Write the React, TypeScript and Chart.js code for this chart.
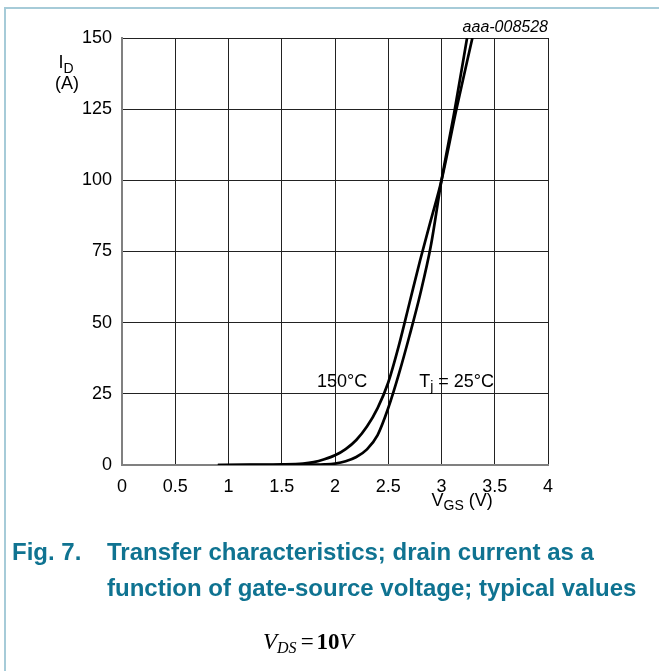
import React, { useEffect, useRef } from 'react';
import { Chart, registerables } from 'chart.js';

Chart.register(...registerables);

// ---- data ----
const vgs150 = [0.9, 1.2, 1.5, 1.7, 1.8, 1.9, 2.0, 2.1, 2.2, 2.3, 2.4, 2.5, 2.6, 2.7, 2.8, 2.9, 3.0, 3.14, 3.29];
const id150 = [0, 0.1, 0.2, 0.5, 1.0, 2.0, 3.4, 5.6, 8.8, 13.5, 20, 29, 42, 57, 72, 86, 100, 125, 150];

const vgs25 = [0.9, 1.5, 1.8, 1.9, 2.0, 2.1, 2.2, 2.3, 2.4, 2.5, 2.6, 2.7, 2.8, 2.9, 3.0, 3.125, 3.24];
const id25 = [0, 0, 0.1, 0.2, 0.5, 1.3, 2.8, 5.5, 10.5, 20, 32, 45.5, 60, 77, 100, 125, 150];

const xTickLabels = ['0', '0.5', '1', '1.5', '2', '2.5', '3', '3.5', '4'];
const yTickLabels = ['0', '25', '50', '75', '100', '125', '150'];

const SANS = "'Liberation Sans', Arial, Helvetica, sans-serif";
const SERIF = "'Liberation Serif', 'Times New Roman', serif";
const W = 659;
const H = 671;

const textPlugin = {
  id: 'extraTexts',
  afterDraw(chart: any) {
    const ctx = chart.ctx as CanvasRenderingContext2D;
    const xs = chart.scales.x;
    const ys = chart.scales.y;
    ctx.save();
    ctx.fillStyle = '#000';
    ctx.textBaseline = 'alphabetic';
    ctx.textAlign = 'left';

    const big = `18px ${SANS}`;
    const sub = `14px ${SANS}`;

    // y-axis title I_D (A)
    ctx.font = big;
    ctx.fillText('I', 58.5, 68);
    const w = ctx.measureText('I').width;
    ctx.font = sub;
    ctx.fillText('D', 58.5 + w, 73);
    ctx.font = big;
    ctx.fillText('(A)', 55, 89);

    // x-axis title V_GS (V)
    let x0 = 431.5;
    ctx.font = big;
    ctx.fillText('V', x0, 506);
    x0 += ctx.measureText('V').width;
    ctx.font = sub;
    ctx.fillText('GS', x0, 510);
    x0 += ctx.measureText('GS').width;
    ctx.font = big;
    ctx.fillText(' (V)', x0, 506);

    // curve labels
    ctx.font = big;
    const yLab = ys.getPixelForValue(27.4);
    ctx.fillText('150°C', xs.getPixelForValue(1.83), yLab);
    let x1 = xs.getPixelForValue(2.79);
    ctx.fillText('T', x1, yLab);
    x1 += ctx.measureText('T').width;
    ctx.font = sub;
    ctx.fillText('j', x1, yLab + 4);
    x1 += ctx.measureText('j').width;
    ctx.font = big;
    ctx.fillText(' = 25°C', x1, yLab);

    // figure id
    ctx.font = `italic 16px ${SANS}`;
    ctx.textAlign = 'right';
    ctx.fillText('aaa-008528', chart.chartArea.right, 32);
    ctx.restore();
  },
};

export default function App() {
  const ref = useRef<HTMLCanvasElement | null>(null);

  useEffect(() => {
    const canvas = ref.current;
    if (!canvas) return;
    const chart = new Chart(canvas, {
      type: 'line',
      data: {
        datasets: [
          {
            label: '150°C',
            data: vgs150.map((x, i) => ({ x, y: id150[i] })),
            borderColor: '#000',
            borderWidth: 2.7,
            pointRadius: 0,
            cubicInterpolationMode: 'monotone',
            fill: false,
          },
          {
            label: 'Tj = 25°C',
            data: vgs25.map((x, i) => ({ x, y: id25[i] })),
            borderColor: '#000',
            borderWidth: 2.7,
            pointRadius: 0,
            cubicInterpolationMode: 'monotone',
            fill: false,
          },
        ],
      },
      options: {
        responsive: false,
        animation: false,
        devicePixelRatio: 1,
        layout: { padding: { left: 0, top: 38, right: W - 548, bottom: 0 } },
        plugins: {
          legend: { display: false },
          tooltip: { enabled: false },
          title: { display: false },
        },
        scales: {
          x: {
            type: 'linear',
            min: 0,
            max: 4,
            ticks: {
              stepSize: 0.5,
              autoSkip: false,
              maxRotation: 0,
              padding: 11,
              color: '#000',
              font: { family: SANS, size: 18 },
              callback: (_v: any, i: number) => xTickLabels[i],
            },
            grid: { color: '#222', lineWidth: 1, drawTicks: false },
            border: { color: '#808080', width: 2 },
            afterFit: (s: any) => {
              s.height = H - 465;
            },
          },
          y: {
            type: 'linear',
            min: 0,
            max: 150,
            ticks: {
              stepSize: 25,
              autoSkip: false,
              padding: 10,
              color: '#000',
              font: { family: SANS, size: 18 },
              callback: (_v: any, i: number) => yTickLabels[i],
            },
            grid: { color: '#222', lineWidth: 1, drawTicks: false },
            border: { color: '#808080', width: 2 },
            afterFit: (s: any) => {
              s.width = 122;
            },
          },
        },
      },
      plugins: [textPlugin],
    } as any);
    return () => chart.destroy();
  }, []);

  const teal = '#0f7391';
  return (
    <div style={{ position: 'absolute', left: 0, top: 0, width: W, height: H, background: '#fff', overflow: 'hidden' }}>
      <canvas ref={ref} width={W} height={H} style={{ position: 'absolute', left: 0, top: 0, width: W, height: H }} />
      <div
        style={{
          position: 'absolute',
          left: 4,
          top: 7,
          width: W,
          height: H,
          borderLeft: '2px solid #a6cbd8',
          borderTop: '2px solid #a6cbd8',
          pointerEvents: 'none',
        }}
      />
      <div
        style={{
          position: 'absolute',
          left: 12,
          top: 534,
          fontFamily: SANS,
          fontWeight: 'bold',
          fontSize: 24,
          lineHeight: '36px',
          color: teal,
          whiteSpace: 'nowrap',
        }}
      >
        Fig. 7.
      </div>
      <div
        style={{
          position: 'absolute',
          left: 107,
          top: 534,
          fontFamily: SANS,
          fontWeight: 'bold',
          fontSize: 24,
          lineHeight: '36px',
          color: teal,
          whiteSpace: 'nowrap',
        }}
      >
        Transfer characteristics; drain current as a
        <br />
        function of gate-source voltage; typical values
      </div>
      <div
        style={{
          position: 'absolute',
          left: 263,
          top: 630,
          fontFamily: SERIF,
          fontSize: 23,
          lineHeight: 1,
          color: '#000',
          whiteSpace: 'nowrap',
        }}
      >
        <i>V</i>
        <i style={{ fontSize: 16, position: 'relative', top: 4 }}>DS</i>
        <span style={{ marginLeft: 4, marginRight: 3 }}>=</span>
        <b>10</b>
        <i>V</i>
      </div>
    </div>
  );
}
